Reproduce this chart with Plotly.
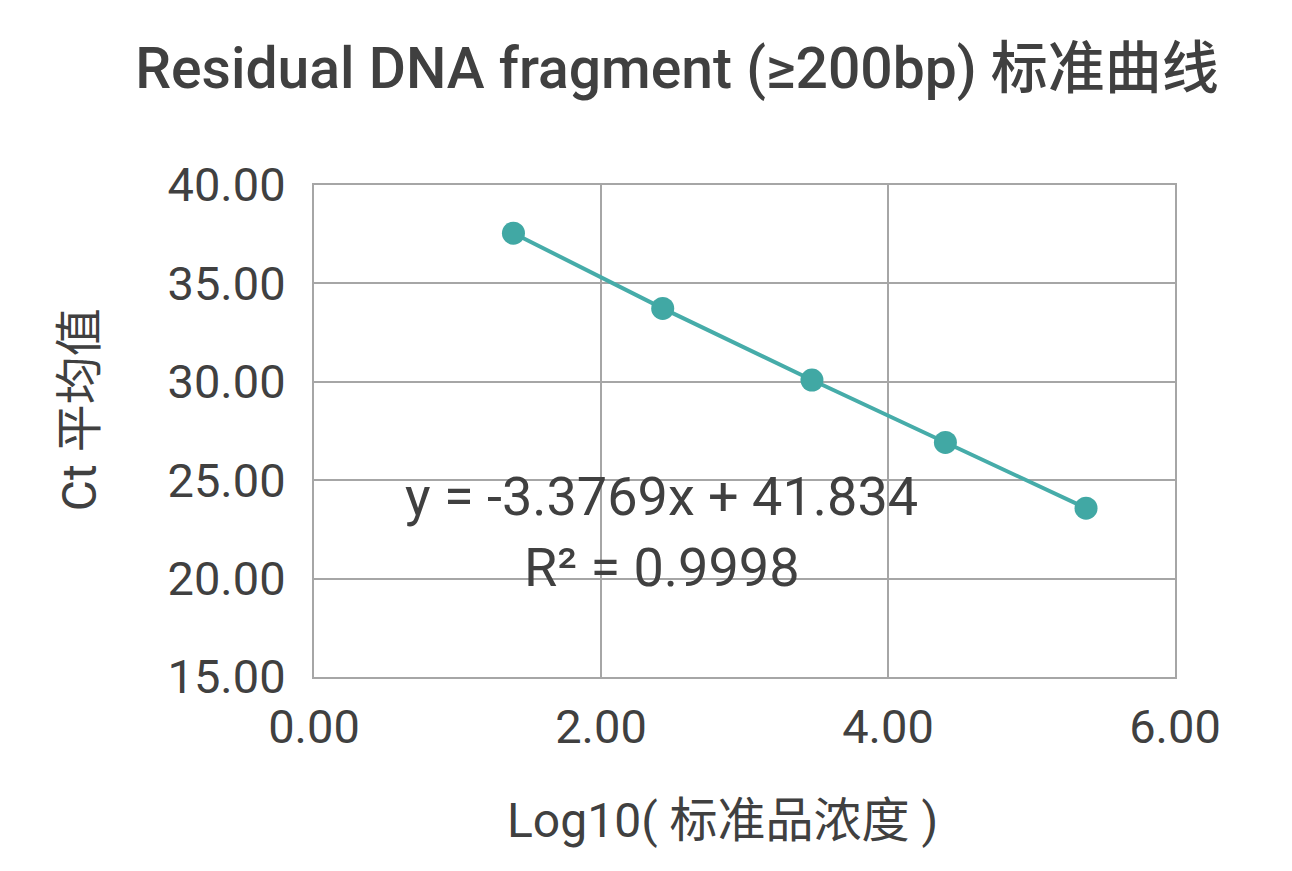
import plotly.graph_objects as go

# Data
log_conc = [1.39, 2.43, 3.47, 4.40, 5.38]
ct_mean = [37.55, 33.73, 30.09, 26.92, 23.58]

x_ticks = [0, 2, 4, 6]
y_ticks = [15, 20, 25, 30, 35, 40]

title_text = "Residual DNA fragment (≥200bp) 标准曲线"
x_title = "Log10( 标准品浓度 )"
y_title = "Ct 平均值"
eq_text = "y = -3.3769x + 41.834"
r2_text = "R² = 0.9998"

FONT = "Roboto, 'Noto Sans CJK SC', sans-serif"
TXT = "#404040"
GRID = "#a6a6a6"
TEAL = "#46aca9"

fig = go.Figure()
fig.add_trace(go.Scatter(
    x=log_conc, y=ct_mean, mode="lines+markers",
    line=dict(color=TEAL, width=4),
    marker=dict(color="#41a8a4", size=23),
    showlegend=False, hoverinfo="skip",
))

fig.add_annotation(x=2.425, y=24.15, xref="x", yref="y", text=eq_text,
                   showarrow=False, font=dict(family=FONT, size=54, color=TXT))
fig.add_annotation(x=2.425, y=20.55, xref="x", yref="y", text=r2_text,
                   showarrow=False, font=dict(family=FONT, size=54, color=TXT))

# axis titles (placed as in the reference, slightly off-centre)
fig.add_annotation(x=0.474, y=-0.291, xref="paper", yref="paper", text=x_title,
                   showarrow=False, xanchor="center", yanchor="middle",
                   font=dict(family=FONT, size=48, color=TXT))
fig.add_annotation(x=-0.272, y=0.544, xref="paper", yref="paper", text=y_title,
                   showarrow=False, xanchor="center", yanchor="middle", textangle=-90,
                   font=dict(family=FONT, size=48, color=TXT))

fig.update_layout(
    width=1292, height=871,
    margin=dict(l=314, r=117, t=185, b=194),
    paper_bgcolor="white", plot_bgcolor="white",
    title=dict(text=title_text, x=0.524, xanchor="center", y=0.922, yanchor="middle",
               font=dict(family=FONT, size=57, color=TXT, weight=500)),
    font=dict(family=FONT, color=TXT),
)
fig.update_xaxes(
    range=[0, 6], tickvals=x_ticks, ticktext=[f"{v:.2f}" for v in x_ticks],
    showgrid=True, gridcolor=GRID, gridwidth=2,
    showline=True, linecolor=GRID, linewidth=2, mirror=True,
    zeroline=False, ticks="", tickfont=dict(family=FONT, size=47, color=TXT),
    ticklabelstandoff=8,
)
fig.update_yaxes(
    range=[15, 40], tickvals=y_ticks, ticktext=[f"{v:.2f}" for v in y_ticks],
    showgrid=True, gridcolor=GRID, gridwidth=2,
    showline=True, linecolor=GRID, linewidth=2, mirror=True,
    zeroline=False, ticks="", tickfont=dict(family=FONT, size=47, color=TXT),
    ticklabelstandoff=17,
)

fig.write_html("out.html")
